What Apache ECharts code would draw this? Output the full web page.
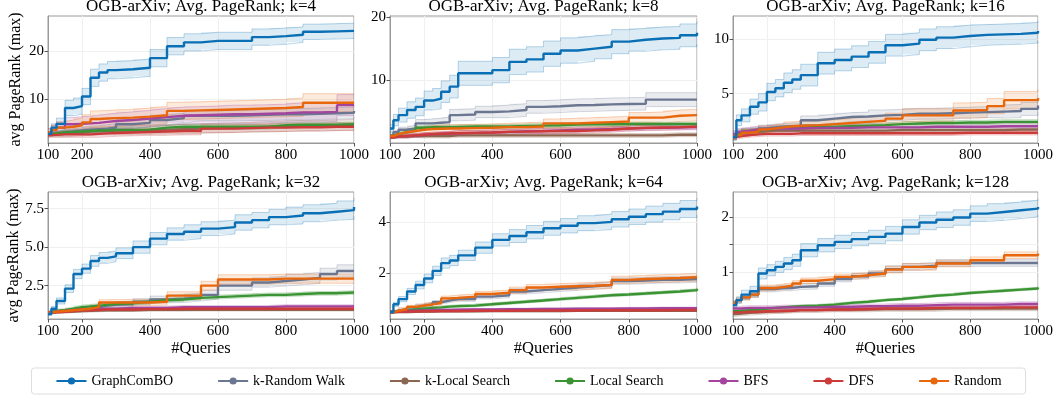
<!DOCTYPE html>
<html><head><meta charset="utf-8">
<script src="https://cdn.jsdelivr.net/npm/echarts@6/dist/echarts.min.js"></script>
<style>html,body{margin:0;padding:0;background:#fff}#c{width:1057px;height:403px}</style>
</head><body><div id="c"></div>
<script>
// ---------------- data ----------------
const QUERIES = [100,110,125,150,175,200,225,250,275,300,350,400,450,500,550,600,650,700,750,800,850,900,950,1000];
const METHODS = ['GraphComBO','k-Random Walk','k-Local Search','Local Search','BFS','DFS','Random'];
const K_VALUES = [4, 8, 16, 32, 64, 128];
const X_TICKS = [100, 200, 400, 600, 800, 1000];

// mean per method (order = METHODS)
const MEAN_K4 = [
  [2.7,4.0,4.8,8.1,8.5,10.5,14.4,15.5,16.0,16.2,16.5,18.5,21.0,21.8,22.1,22.1,22.1,22.9,23.1,23.4,24.0,24.1,24.2,24.3],
  [2.5,2.7,3.0,3.2,3.4,3.6,3.7,3.8,4.0,4.7,5.0,5.6,6.0,6.5,6.5,6.5,6.6,6.7,6.8,6.8,6.9,7.0,7.1,7.5],
  [2.5,2.6,2.7,2.9,3.0,3.2,3.3,3.3,3.4,3.4,3.5,3.6,3.7,3.8,3.9,4.0,4.1,4.2,4.3,4.4,4.4,4.5,4.6,4.6],
  [2.7,2.8,3.0,3.1,3.2,3.3,3.4,3.4,3.5,3.5,3.6,4.0,4.2,4.2,4.2,4.2,4.2,4.2,4.5,4.6,4.6,4.6,4.7,4.7],
  [3.0,3.5,4.0,4.7,4.8,4.9,5.0,5.2,5.4,5.6,5.9,6.2,6.5,6.6,6.7,6.8,6.8,6.9,7.0,7.2,7.2,7.3,8.7,8.8],
  [2.5,2.5,2.6,2.6,2.6,2.6,2.7,2.8,2.9,3.0,3.1,3.2,3.3,3.3,3.8,3.8,3.9,4.0,4.0,4.1,4.1,4.2,4.2,4.3],
  [3.0,3.5,4.0,4.2,4.5,5.1,5.8,5.9,6.0,6.1,6.3,6.6,7.5,7.6,7.7,7.8,7.9,8.0,8.1,8.3,9.2,9.2,9.2,9.2]
];
const SE_K4 = [
  [0.4,0.8,1.2,1.6,1.7,1.7,1.8,1.8,1.8,1.8,1.8,1.8,1.8,1.8,1.8,1.8,1.8,1.7,1.7,1.6,1.6,1.6,1.6,1.6],
  [0.3,0.4,0.5,0.6,0.6,0.7,0.7,0.8,0.8,0.9,0.9,1.0,1.0,1.1,1.1,1.1,1.1,1.2,1.2,1.2,1.2,1.2,1.2,1.2],
  [0.4,0.5,0.6,0.7,0.7,0.8,0.8,0.8,0.9,0.9,0.9,0.9,1.0,1.0,1.0,1.0,1.0,1.1,1.1,1.1,1.1,1.1,1.1,1.1],
  [0.3,0.3,0.4,0.4,0.4,0.4,0.4,0.5,0.5,0.5,0.5,0.5,0.5,0.5,0.5,0.5,0.5,0.5,0.5,0.5,0.5,0.5,0.5,0.5],
  [0.8,1.0,1.2,1.4,1.5,1.5,1.6,1.6,1.6,1.7,1.7,1.8,1.8,1.8,1.8,1.9,1.9,1.9,1.9,2.0,2.0,2.0,2.2,2.2],
  [0.5,0.5,0.6,0.6,0.6,0.6,0.7,0.7,0.7,0.7,0.7,0.8,0.8,0.8,0.8,0.8,0.8,0.8,0.8,0.8,0.8,0.8,0.8,0.8],
  [0.8,1.0,1.2,1.4,1.5,1.6,1.7,1.7,1.7,1.7,1.8,1.8,1.8,1.8,1.8,1.8,1.8,1.8,1.8,1.9,1.9,1.9,1.9,1.9]
];
const MEAN_K8 = [
  [2.4,3.7,4.5,5.3,5.8,6.8,7.1,8.2,9.0,11.1,11.1,11.6,12.9,13.3,14.2,14.7,15.0,15.3,16.1,16.4,16.6,16.7,17.1,17.5],
  [1.3,1.8,2.2,2.4,3.2,3.2,3.3,3.4,4.5,4.6,5.0,5.1,5.3,5.8,5.9,6.05,6.1,6.2,6.25,6.3,6.95,6.95,6.95,6.95],
  [1.0,1.1,1.1,1.2,1.2,1.2,1.2,1.2,1.3,1.3,1.3,1.3,1.3,1.3,1.3,1.3,1.3,1.3,1.3,1.3,1.3,1.4,1.4,1.4],
  [1.2,1.5,1.8,2.1,2.5,2.6,2.6,2.6,2.65,2.7,2.7,2.7,2.8,2.85,2.9,3.0,3.05,3.05,3.1,3.1,3.1,3.1,3.1,3.1],
  [1.0,1.1,1.2,1.3,1.4,1.5,1.55,1.6,1.65,1.7,1.75,1.85,1.95,2.0,2.1,2.2,2.25,2.3,2.4,2.45,2.5,2.55,2.6,2.6],
  [1.0,1.1,1.2,1.3,1.4,1.5,1.55,1.6,1.65,1.7,1.75,1.85,1.9,1.95,2.0,2.0,2.1,2.2,2.4,2.5,2.55,2.6,2.7,2.7],
  [1.2,1.5,1.8,2.0,2.2,2.3,2.35,2.4,2.4,2.45,2.5,2.6,2.6,2.7,3.2,3.2,3.3,3.4,3.5,4.1,4.1,4.4,4.5,4.5]
];
const SE_K8 = [
  [0.6,0.9,1.1,1.3,1.4,1.5,1.6,1.7,1.8,1.9,1.9,2.0,2.0,2.0,2.0,2.0,2.0,1.9,1.9,1.8,1.8,1.8,1.8,1.8],
  [0.2,0.3,0.4,0.5,0.6,0.7,0.7,0.8,0.9,0.9,0.9,1.0,1.0,1.0,1.0,1.0,1.0,1.0,1.0,1.0,1.1,1.1,1.1,1.1],
  [0.2,0.2,0.2,0.2,0.3,0.3,0.3,0.3,0.3,0.3,0.3,0.3,0.3,0.3,0.3,0.3,0.3,0.3,0.3,0.3,0.3,0.3,0.3,0.3],
  [0.2,0.2,0.2,0.3,0.3,0.3,0.3,0.3,0.3,0.3,0.3,0.3,0.3,0.3,0.3,0.3,0.3,0.3,0.3,0.3,0.3,0.3,0.3,0.3],
  [0.2,0.2,0.3,0.3,0.3,0.3,0.3,0.3,0.4,0.4,0.4,0.4,0.4,0.4,0.4,0.4,0.4,0.4,0.4,0.4,0.4,0.4,0.4,0.4],
  [0.2,0.2,0.3,0.3,0.3,0.3,0.3,0.3,0.4,0.4,0.4,0.4,0.4,0.4,0.4,0.4,0.4,0.4,0.4,0.4,0.4,0.4,0.4,0.4],
  [0.2,0.3,0.4,0.5,0.5,0.5,0.6,0.6,0.6,0.6,0.6,0.6,0.7,0.7,0.7,0.8,0.8,0.8,0.8,0.8,0.9,0.9,0.9,0.9]
];
const MEAN_K16 = [
  [1.0,2.55,3.0,3.8,4.2,5.15,5.5,6.0,6.3,6.7,7.8,8.1,8.4,8.8,9.45,9.6,9.95,10.15,10.3,10.4,10.45,10.5,10.6,10.75],
  [1.0,1.3,1.5,1.6,1.8,1.9,1.95,2.0,2.0,2.55,2.7,2.85,2.9,3.0,3.05,3.15,3.15,3.2,3.25,3.3,3.35,3.4,3.6,3.9],
  [1.2,1.4,1.5,1.5,1.55,1.6,1.6,1.6,1.6,1.6,1.6,1.6,1.6,1.6,1.65,1.65,1.65,1.65,1.65,1.65,1.65,1.7,1.7,1.7],
  [1.0,1.3,1.5,1.6,1.7,1.8,1.85,1.9,1.9,1.95,1.95,2.0,2.05,2.1,2.2,2.25,2.3,2.3,2.35,2.35,2.4,2.4,2.4,2.4],
  [1.3,1.5,1.6,1.7,1.75,1.8,1.8,1.8,1.8,1.85,1.85,1.85,1.9,1.9,1.9,1.9,1.95,1.95,1.95,1.95,2.0,2.0,2.0,2.0],
  [1.0,1.1,1.2,1.25,1.3,1.3,1.3,1.3,1.35,1.35,1.35,1.35,1.35,1.35,1.35,1.35,1.35,1.35,1.4,1.4,1.4,1.4,1.4,1.4],
  [1.0,1.2,1.4,1.5,1.7,1.8,1.9,2.0,2.05,2.1,2.2,2.3,2.4,2.5,2.7,3.0,3.0,3.0,3.45,3.5,3.85,4.4,4.4,4.6]
];
const SE_K16 = [
  [0.3,0.5,0.6,0.7,0.8,0.8,0.8,0.9,0.9,1.0,1.0,1.0,1.0,1.0,1.0,1.0,1.0,1.0,1.0,0.95,0.95,0.95,0.95,0.95],
  [0.2,0.2,0.3,0.3,0.3,0.3,0.3,0.3,0.3,0.4,0.4,0.4,0.4,0.5,0.5,0.5,0.5,0.5,0.5,0.5,0.6,0.6,0.6,0.6],
  [0.3,0.3,0.3,0.3,0.3,0.3,0.3,0.3,0.3,0.3,0.3,0.3,0.3,0.3,0.3,0.3,0.3,0.3,0.3,0.3,0.3,0.3,0.3,0.3],
  [0.2,0.2,0.2,0.2,0.2,0.2,0.2,0.2,0.2,0.2,0.2,0.2,0.2,0.2,0.2,0.2,0.2,0.2,0.2,0.2,0.2,0.2,0.2,0.2],
  [0.3,0.3,0.3,0.3,0.3,0.3,0.3,0.3,0.3,0.3,0.3,0.3,0.3,0.3,0.3,0.3,0.3,0.3,0.3,0.3,0.3,0.3,0.3,0.3],
  [0.2,0.2,0.2,0.2,0.2,0.2,0.2,0.2,0.2,0.2,0.2,0.2,0.2,0.2,0.2,0.2,0.2,0.2,0.2,0.2,0.2,0.2,0.2,0.2],
  [0.2,0.2,0.3,0.3,0.3,0.3,0.3,0.4,0.4,0.4,0.4,0.4,0.5,0.5,0.5,0.6,0.6,0.6,0.7,0.7,0.7,0.8,0.8,0.8]
];
const MEAN_K32 = [
  [0.65,1.0,1.5,2.3,3.25,3.6,4.1,4.3,4.4,4.6,5.0,5.55,5.85,6.0,6.2,6.3,6.6,6.75,6.95,7.05,7.2,7.3,7.4,7.6],
  [0.75,0.8,0.85,0.9,0.95,1.0,1.1,1.2,1.25,1.3,1.45,1.6,1.65,1.75,1.9,2.5,2.5,2.7,2.8,2.9,3.0,3.25,3.45,3.45],
  [0.75,0.78,0.8,0.82,0.84,0.86,0.88,0.9,0.9,0.9,0.92,0.92,0.92,0.93,0.93,0.93,0.93,0.93,0.93,0.93,0.93,0.93,0.93,0.93],
  [0.75,0.85,0.9,1.0,1.1,1.15,1.2,1.25,1.3,1.35,1.45,1.55,1.6,1.7,1.75,1.8,1.85,1.9,1.9,1.95,2.0,2.0,2.05,2.05],
  [0.75,0.8,0.85,0.9,0.95,0.95,1.0,1.0,1.0,1.05,1.05,1.05,1.1,1.1,1.1,1.1,1.1,1.1,1.15,1.15,1.15,1.15,1.15,1.15],
  [0.75,0.78,0.8,0.85,0.9,0.9,0.92,0.95,0.95,0.95,0.97,0.97,1.0,1.0,1.0,1.0,1.0,1.0,1.0,1.0,1.0,1.0,1.0,1.0],
  [0.75,0.8,0.85,0.9,0.95,1.0,1.1,1.4,1.4,1.4,1.4,1.45,1.85,1.85,2.5,2.9,2.9,2.9,2.95,2.95,2.95,2.95,2.95,2.95]
];
const SE_K32 = [
  [0.1,0.15,0.2,0.25,0.3,0.3,0.35,0.35,0.35,0.35,0.4,0.4,0.4,0.45,0.45,0.45,0.5,0.5,0.5,0.55,0.55,0.55,0.6,0.6],
  [0.05,0.08,0.1,0.1,0.12,0.15,0.15,0.18,0.2,0.2,0.2,0.22,0.25,0.25,0.28,0.3,0.3,0.3,0.32,0.35,0.35,0.38,0.4,0.4],
  [0.08,0.08,0.08,0.08,0.08,0.08,0.08,0.08,0.08,0.08,0.08,0.08,0.08,0.08,0.08,0.08,0.08,0.08,0.08,0.08,0.08,0.08,0.08,0.08],
  [0.08,0.1,0.1,0.1,0.12,0.12,0.12,0.12,0.12,0.12,0.12,0.12,0.12,0.12,0.12,0.12,0.12,0.12,0.12,0.12,0.12,0.12,0.12,0.12],
  [0.1,0.1,0.1,0.1,0.1,0.1,0.1,0.1,0.1,0.1,0.1,0.1,0.1,0.1,0.1,0.1,0.1,0.1,0.1,0.1,0.1,0.1,0.1,0.1],
  [0.08,0.08,0.08,0.08,0.08,0.08,0.08,0.08,0.08,0.08,0.08,0.08,0.08,0.08,0.08,0.08,0.08,0.08,0.08,0.08,0.08,0.08,0.08,0.08],
  [0.05,0.08,0.1,0.12,0.14,0.15,0.16,0.18,0.2,0.2,0.2,0.22,0.25,0.25,0.28,0.3,0.3,0.3,0.3,0.3,0.3,0.3,0.3,0.3]
];
const MEAN_K64 = [
  [0.5,0.8,1.0,1.3,1.55,1.8,2.1,2.4,2.5,2.7,3.0,3.3,3.45,3.6,3.75,3.85,3.95,4.0,4.1,4.2,4.3,4.4,4.5,4.6],
  [0.5,0.55,0.6,0.68,0.75,0.8,0.88,0.95,1.0,1.0,1.1,1.15,1.3,1.35,1.4,1.45,1.5,1.55,1.7,1.72,1.75,1.75,1.78,1.8],
  [0.5,0.5,0.5,0.51,0.52,0.52,0.53,0.53,0.53,0.53,0.54,0.54,0.54,0.54,0.54,0.55,0.55,0.55,0.55,0.55,0.55,0.55,0.55,0.55],
  [0.5,0.53,0.56,0.6,0.63,0.66,0.68,0.71,0.73,0.75,0.8,0.85,0.9,0.95,1.0,1.05,1.1,1.15,1.18,1.22,1.26,1.3,1.35,1.4],
  [0.5,0.52,0.54,0.55,0.56,0.57,0.58,0.58,0.59,0.6,0.6,0.61,0.61,0.62,0.62,0.63,0.63,0.63,0.64,0.64,0.65,0.65,0.65,0.65],
  [0.5,0.51,0.52,0.52,0.53,0.53,0.54,0.54,0.54,0.55,0.55,0.55,0.56,0.56,0.56,0.56,0.57,0.57,0.57,0.57,0.57,0.58,0.58,0.58],
  [0.5,0.55,0.62,0.7,0.75,0.8,0.85,1.03,1.05,1.1,1.2,1.25,1.35,1.45,1.48,1.5,1.52,1.55,1.75,1.78,1.8,1.82,1.85,1.85]
];
const SE_K64 = [
  [0.05,0.08,0.1,0.12,0.15,0.17,0.18,0.2,0.2,0.2,0.22,0.24,0.25,0.26,0.27,0.28,0.29,0.3,0.3,0.3,0.31,0.32,0.33,0.33],
  [0.03,0.04,0.05,0.05,0.06,0.07,0.07,0.08,0.08,0.08,0.09,0.09,0.1,0.1,0.1,0.11,0.11,0.11,0.12,0.12,0.12,0.12,0.12,0.12],
  [0.03,0.03,0.03,0.03,0.03,0.03,0.03,0.03,0.03,0.03,0.03,0.03,0.03,0.03,0.03,0.03,0.03,0.03,0.03,0.03,0.03,0.03,0.03,0.03],
  [0.04,0.04,0.05,0.05,0.05,0.05,0.05,0.05,0.05,0.05,0.05,0.05,0.05,0.05,0.05,0.05,0.05,0.05,0.05,0.05,0.05,0.05,0.05,0.05],
  [0.04,0.04,0.04,0.04,0.04,0.04,0.04,0.04,0.04,0.04,0.04,0.04,0.04,0.04,0.04,0.04,0.04,0.04,0.04,0.04,0.04,0.04,0.04,0.04],
  [0.03,0.03,0.03,0.03,0.03,0.03,0.03,0.03,0.03,0.03,0.03,0.03,0.03,0.03,0.03,0.03,0.03,0.03,0.03,0.03,0.03,0.03,0.03,0.03],
  [0.03,0.04,0.05,0.06,0.07,0.08,0.08,0.09,0.1,0.1,0.1,0.11,0.12,0.12,0.12,0.13,0.13,0.14,0.14,0.14,0.15,0.15,0.15,0.15]
];
const MEAN_K128 = [
  [0.41,0.5,0.6,0.66,0.98,1.04,1.1,1.16,1.22,1.4,1.49,1.55,1.6,1.64,1.7,1.82,1.9,1.95,1.99,2.06,2.09,2.12,2.15,2.18],
  [0.45,0.5,0.55,0.6,0.7,0.7,0.72,0.72,0.74,0.75,0.8,0.88,0.93,0.98,1.06,1.1,1.12,1.17,1.17,1.17,1.17,1.17,1.17,1.17],
  [0.25,0.26,0.27,0.28,0.29,0.3,0.3,0.31,0.32,0.32,0.33,0.33,0.33,0.34,0.34,0.34,0.34,0.35,0.35,0.35,0.35,0.35,0.35,0.35],
  [0.3,0.31,0.32,0.33,0.35,0.36,0.37,0.38,0.39,0.4,0.42,0.45,0.47,0.5,0.52,0.55,0.58,0.6,0.63,0.65,0.67,0.69,0.71,0.73],
  [0.35,0.35,0.36,0.36,0.36,0.36,0.37,0.37,0.37,0.37,0.38,0.38,0.39,0.39,0.4,0.4,0.41,0.42,0.42,0.42,0.42,0.43,0.43,0.43],
  [0.28,0.28,0.29,0.29,0.3,0.3,0.31,0.31,0.32,0.32,0.33,0.33,0.34,0.35,0.35,0.35,0.36,0.36,0.36,0.36,0.37,0.37,0.37,0.37],
  [0.45,0.5,0.55,0.6,0.72,0.72,0.74,0.76,0.8,0.85,0.88,0.92,0.95,0.98,1.05,1.1,1.1,1.16,1.16,1.22,1.22,1.31,1.31,1.34]
];
const SE_K128 = [
  [0.05,0.06,0.08,0.09,0.1,0.1,0.1,0.11,0.11,0.12,0.12,0.12,0.12,0.12,0.13,0.13,0.13,0.14,0.14,0.14,0.15,0.15,0.15,0.15],
  [0.03,0.04,0.04,0.05,0.05,0.05,0.05,0.05,0.05,0.05,0.05,0.05,0.05,0.05,0.06,0.06,0.06,0.06,0.06,0.06,0.06,0.06,0.06,0.06],
  [0.04,0.04,0.04,0.04,0.04,0.04,0.04,0.04,0.04,0.04,0.04,0.04,0.04,0.04,0.04,0.04,0.04,0.04,0.04,0.04,0.04,0.04,0.04,0.04],
  [0.02,0.02,0.02,0.02,0.02,0.02,0.02,0.02,0.02,0.02,0.02,0.02,0.02,0.02,0.02,0.02,0.02,0.02,0.02,0.02,0.02,0.02,0.02,0.02],
  [0.04,0.04,0.04,0.04,0.04,0.04,0.04,0.04,0.04,0.04,0.04,0.04,0.04,0.04,0.04,0.04,0.04,0.04,0.04,0.04,0.04,0.04,0.04,0.04],
  [0.03,0.03,0.03,0.03,0.03,0.03,0.03,0.03,0.03,0.03,0.03,0.03,0.03,0.03,0.03,0.03,0.03,0.03,0.03,0.03,0.03,0.03,0.03,0.03],
  [0.04,0.04,0.05,0.05,0.05,0.05,0.05,0.05,0.05,0.05,0.05,0.05,0.05,0.05,0.06,0.06,0.06,0.06,0.06,0.06,0.06,0.06,0.06,0.06]
];

const Y_TICKS_K4 = [10, 20];
const Y_TICKS_K8 = [10, 20];
const Y_TICKS_K16 = [5, 10];
const Y_TICKS_K32 = [2.5, 5.0, 7.5];
const Y_TICKS_K64 = [2, 4];
const Y_TICKS_K128 = [1, 2];
const Y_MINOR_K128 = [1.5];

// ---------------- layout / style ----------------
const COLORS = ['#0a6fb4','#6b7690','#8c6650','#3a9434','#a3449f','#cc3a3a','#e8670c'];
const FONT = '"Liberation Serif", "DejaVu Serif", serif';
const COL_LEFT = [48, 390, 733];
const COL_WIDTH = [306, 307, 305];
const ROW_TOP = [16, 192];
const ROW_H = 127;
const TITLE_TOP = [-2, 174];
const Y_RANGES = [[0.8, 27.3], [0.1, 20.15], [0.46, 12.14], [0.33, 8.58], [0.23, 5.16], [0.16, 2.45]];
const Y_DECIMALS = [0, 0, 0, 1, 0, 0];

const PANELS = [
  {mean: MEAN_K4, se: SE_K4, ticks: Y_TICKS_K4, minor: []},
  {mean: MEAN_K8, se: SE_K8, ticks: Y_TICKS_K8, minor: []},
  {mean: MEAN_K16, se: SE_K16, ticks: Y_TICKS_K16, minor: []},
  {mean: MEAN_K32, se: SE_K32, ticks: Y_TICKS_K32, minor: []},
  {mean: MEAN_K64, se: SE_K64, ticks: Y_TICKS_K64, minor: []},
  {mean: MEAN_K128, se: SE_K128, ticks: Y_TICKS_K128, minor: Y_MINOR_K128}
];

const grids = [], xAxes = [], yAxes = [], titles = [], series = [];
const DRAW_ORDER = [0, 1, 2, 3, 4, 5, 6];
const N = QUERIES.length;

function bandSeries(pi, color, lo, hi) {
  return {
    type: 'custom', xAxisIndex: pi, yAxisIndex: pi, silent: true, z: 1,
    data: QUERIES.map((q, i) => [q, lo[i], hi[i]]),
    encode: {x: 0, y: [1, 2]},
    renderItem: (params, api) => {
      if (params.dataIndex !== 0) return null;
      const pts = [];
      for (let i = 0; i < N; i++) {
        pts.push(api.coord([QUERIES[i], hi[i]]));
        if (i < N - 1) pts.push(api.coord([QUERIES[i + 1], hi[i]]));
      }
      for (let i = N - 1; i >= 0; i--) {
        if (i < N - 1) pts.push(api.coord([QUERIES[i + 1], lo[i]]));
        pts.push(api.coord([QUERIES[i], lo[i]]));
      }
      return {type: 'polygon', shape: {points: pts}, style: {fill: color, opacity: 0.14}};
    }
  };
}

PANELS.forEach((p, pi) => {
  const row = Math.floor(pi / 3), col = pi % 3;
  const left = COL_LEFT[col], width = COL_WIDTH[col], top = ROW_TOP[row];
  grids.push({left, top, width, height: ROW_H, show: true, borderColor: '#9a9a9a', borderWidth: 1, containLabel: false});
  titles.push({
    text: 'OGB-arXiv; Avg. PageRank; k=' + K_VALUES[pi],
    left: left + width / 2, top: TITLE_TOP[row], textAlign: 'center', padding: 0,
    textStyle: {fontFamily: FONT, fontSize: 17, fontWeight: 'normal', color: '#000'}
  });
  xAxes.push({
    type: 'value', gridIndex: pi, min: 100, max: 1000,
    name: row === 1 ? '#Queries' : '', nameLocation: 'middle', nameGap: 14,
    nameTextStyle: {fontFamily: FONT, fontSize: 16.5, color: '#000', verticalAlign: 'top'},
    axisLine: {show: true, lineStyle: {color: '#9a9a9a', width: 1}},
    axisTick: {show: true, length: 3.5, customValues: X_TICKS, lineStyle: {color: '#555'}},
    axisLabel: {customValues: X_TICKS, margin: 5, fontFamily: FONT, fontSize: 15, color: '#000',
      formatter: v => String(v)},
    splitLine: {show: true, lineStyle: {color: '#f0f0f0', width: 1}}
  });
  const dec = Y_DECIMALS[pi];
  yAxes.push({
    type: 'value', gridIndex: pi, min: Y_RANGES[pi][0], max: Y_RANGES[pi][1],
    name: col === 0 ? 'avg PageRank (max)' : '', nameLocation: 'middle', nameGap: 24,
    nameTextStyle: {fontFamily: FONT, fontSize: 16, color: '#000'},
    axisLine: {show: true, lineStyle: {color: '#9a9a9a', width: 1}},
    axisTick: {show: true, length: 3.5, customValues: p.ticks.concat(p.minor), lineStyle: {color: '#555'}},
    axisLabel: {customValues: p.ticks, margin: 4, fontFamily: FONT, fontSize: 15, color: '#000',
      formatter: v => Number(v).toFixed(dec)},
    splitLine: {show: true, lineStyle: {color: '#f0f0f0', width: 1}}
  });
  DRAW_ORDER.forEach(mi => {
    const color = COLORS[mi];
    const mean = p.mean[mi], se = p.se[mi];
    const lo = mean.map((v, i) => v - se[i]);
    const hi = mean.map((v, i) => v + se[i]);
    series.push(bandSeries(pi, color, lo, hi));
    [lo, hi].forEach((edge, ei) => {
      series.push({
        type: 'line', name: METHODS[mi] + (ei ? ' upper' : ' lower'), xAxisIndex: pi, yAxisIndex: pi,
        data: QUERIES.map((q, i) => [q, edge[i]]), step: 'end',
        symbol: 'none', silent: true, z: 2,
        lineStyle: {color, width: 0.8, opacity: 0.35}
      });
    });
  });
  DRAW_ORDER.forEach(mi => {
    const color = COLORS[mi];
    series.push({
      type: 'line', name: METHODS[mi], xAxisIndex: pi, yAxisIndex: pi,
      data: QUERIES.map((q, i) => [q, p.mean[mi][i]]), step: 'end',
      symbol: 'circle', showSymbol: false, z: mi === 0 ? 4 : 3,
      lineStyle: {color, width: 2.4}, itemStyle: {color}
    });
  });
});

const chart = echarts.init(document.getElementById('c'), null, {renderer: 'canvas'});
chart.setOption({
  animation: false,
  backgroundColor: '#fff',
  title: titles,
  grid: grids,
  xAxis: xAxes,
  yAxis: yAxes,
  legend: {
    data: METHODS, left: 'center', top: 368,
    itemWidth: 30, itemHeight: 9, itemGap: 44,
    padding: [6, 24], borderColor: '#dddddd', borderWidth: 1, borderRadius: 3,
    textStyle: {fontFamily: FONT, fontSize: 14, color: '#000'}
  },
  series
});
</script>
</body></html>
